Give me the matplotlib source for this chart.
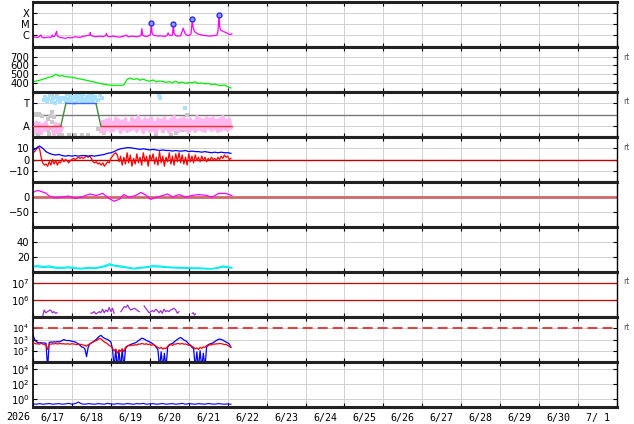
import datetime

import numpy as np
import matplotlib
matplotlib.use('Agg')
import matplotlib.pyplot as plt
import matplotlib.dates as mdates
from matplotlib.ticker import FixedLocator, NullLocator, NullFormatter, FixedFormatter, LogFormatterMathtext

nan = np.nan

# ---- data (hours counted from 2026-06-17 00:00) ----
# X-ray flux, in units of 1e-6 W/m2
xray_h = [0, 1.5, 3, 4.9, 5.3, 6.5, 8, 9.5, 11, 11.9,
          12.4, 13.5, 14.5, 14.9, 15.8, 17, 18.5, 20, 21.5, 23,
          24.5, 26, 27.5, 29, 30.5, 32, 33.5, 35.0, 35.3, 35.8,
          37, 38.5, 40, 41.5, 43, 44.8, 45.3, 45.9, 47, 48.5,
          50, 51.5, 53, 54.5, 56, 57.6, 58.2, 59.5, 61, 62.5,
          64, 65.5, 66.6, 67.1, 67.6, 68.5, 70, 71.5, 72.4, 73.0,
          73.4, 74.2, 75.5, 77, 78.5, 80, 81.5, 82.8, 83.3, 83.9,
          85, 86.0, 86.5, 87.0, 88, 89.5, 91, 92.6, 93.1, 93.8,
          94.8, 96, 97.4, 98.2, 98.7, 99.5, 100.5, 101.5, 103, 104.5,
          106, 107.5, 109, 110.5, 112, 113.4, 114.0, 114.7, 115.1, 115.6,
          116.3, 117.2, 118.2, 119.3, 120.4, 121.5, 122.6]
xray_flux = [0.7, 0.65, 0.6, 1.0, 0.7, 0.55, 0.6, 0.65, 0.6, 1.0,
             0.7, 0.8, 2.2, 0.9, 0.7, 0.6, 0.55, 0.5, 0.6, 0.55,
             0.6, 0.7, 0.65, 0.6, 0.75, 0.8, 0.9, 1.0, 1.7, 0.9,
             0.8, 0.7, 0.75, 0.8, 0.7, 0.9, 1.4, 0.8, 0.7, 0.75,
             0.8, 0.7, 0.65, 0.7, 0.8, 1.0, 0.75, 0.7, 0.8, 0.75,
             0.7, 0.8, 0.9, 3.8, 1.0, 0.8, 0.75, 0.9, 1.1, 12.0,
             1.5, 1.0, 0.9, 0.8, 0.85, 0.8, 0.75, 1.0, 1.6, 1.0,
             0.9, 1.0, 9.8, 1.4, 0.9, 0.8, 0.85, 4.3, 2.5, 1.4,
             1.0, 0.9, 1.2, 30.0, 5.0, 2.2, 1.6, 1.3, 1.1, 1.0,
             0.9, 0.85, 0.8, 0.85, 0.9, 1.0, 2.0, 71.0, 6.0, 3.0,
             2.6, 2.2, 1.9, 1.6, 1.3, 1.1, 1.3]
flare_h = [73.0, 86.5, 98.2, 114.7]
flare_flux = [12.0, 9.8, 30.0, 71.0]

# solar wind speed (km/s), every 2 h
wind_speed = [412, 420, 428, 440, 452, 465, 472, 498, 478, 482,
              470, 468, 462, 455, 448, 440, 432, 425, 415, 408,
              398, 390, 382, 376, 372, 370, 372, 368, 375, 440,
              455, 438, 448, 430, 442, 425, 418, 432, 410, 420,
              415, 405, 412, 400, 418, 398, 408, 395, 402, 400,
              410, 392, 398, 388, 392, 380, 385, 372, 368, 375,
              355, 340]

# panel 3: sector / class (A=0, T=2)
lightblue_h = [6.5, 7.5, 8.5, 9.5, 10.5, 11.5, 12.5, 13.5, 14.5, 15.5, 16.5, 17.5, 18.5,
               20.0, 20.5, 21.0, 22.0, 22.5, 23.0, 24.0, 24.5, 25.0, 26.0,
               26.5, 27.0, 28.0, 28.5, 29.0, 30.0, 30.5, 31.0, 32.0, 32.5,
               33.0, 34.0, 34.5, 35.0, 36.0, 36.5, 37.0, 38.0, 38.5, 40.0,
               41.5, 42.5, 77.5, 78.0, 93.5]
lightblue_v = [2.3, 2.6, 2.1, 2.4, 2.7, 2.2, 2.5, 2.0, 2.6, 2.3, 2.1, 2.5, 2.4,
               2.5, 2.2, 2.8, 2.4, 2.1, 2.7, 2.3, 2.6, 2.0, 2.5,
               2.8, 2.2, 2.6, 2.3, 2.7, 2.1, 2.5, 2.8, 2.4, 2.2,
               2.6, 2.3, 2.7, 2.1, 2.5, 2.8, 2.2, 2.6, 2.4, 2.3,
               2.7, 2.5, 2.7, 2.5, 1.6]
gray_h = [0.5, 1.5, 2.5, 3.5, 4.5, 5.5, 1.0, 3.0, 5.0, 9.5,
          10.5, 11.5, 12.0, 13.0, 9.0, 10.0, 11.0, 14.0, 16.0, 18.0,
          22.0, 26.0, 30.0, 34.0, 40.0, 44.0, 76.0, 80.0, 85.0, 88.0,
          92.0, 95.0, 12.0, 14.5]
gray_v = [1.0, 1.05, 0.95, 1.05, 1.0, 0.9, -0.6, -0.8, -0.5, 0.6,
          0.9, 1.2, 0.3, 0.8, -0.4, -0.7, -0.2, -0.5, -0.85, -0.85,
          -0.85, -0.85, -0.85, -0.85, -0.3, -0.6, -0.7, -0.5, -0.8, -0.6,
          -0.4, 1.0, 2.85, 2.9]
pink_v = [-0.1, -0.6, 0.3, -0.5, 0.2, -0.7, 0.1, -0.4, 0.3, -0.3,
          nan, nan, -0.2, -0.8, 0.2, -0.6, 0.1, -0.5, -0.2, nan,
          nan, nan, nan, nan, nan, nan, nan, nan, nan, nan,
          nan, nan, nan, nan, nan, nan, nan, nan, nan, nan,
          nan, nan, -0.5, 0.4, -0.6, 0.5, -0.3, 0.6, -0.5, 0.3,
          -0.4, 0.7, -0.2, 0.5, -0.6, 0.4, -0.3, 0.6, -0.5, 0.2,
          -0.4, 0.7, -0.3, 0.5, -0.5, 0.8, -0.2, 0.4, -0.6, 0.6,
          -0.3, 0.5, -0.5, 0.7, -0.4, 0.3, -0.6, 0.6, -0.2, 0.5,
          -0.5, 0.7, -0.3, 0.4, -0.6, 0.6, -0.4, 0.8, -0.3, 0.5,
          -0.5, 0.6, -0.2, 0.7, -0.4, 0.5, -0.6, 0.6, -0.3, 0.4,
          -0.5, 0.8, -0.3, 0.6, -0.4, 0.5, -0.5, 0.7, -0.2, 0.6,
          -0.4, 0.7, -0.3, 0.5, -0.5, 0.6, -0.4, 0.8, -0.3, 0.5,
          -0.4, 0.6, -0.2]
class_h = [0, 17.2, 20.3, 38.8, 41.8, 122.6]
class_v = [0, 0, 2, 2, 0, 0]
class_colors = ['#ff3030', '#3f8a3f', '#4466ff', '#3f8a3f', '#ff3030']

# IMF Bt every 2 h, Bz every 1 h (nT)
bt = [8, 10, 12, 10, 7, 5.5, 4.5, 4, 4.5, 3.5,
      3, 3.5, 3, 3.5, 3, 3.5, 3.5, 3, 3.5, 3,
      3.5, 4, 4.5, 5.5, 6, 7, 8.5, 9.5, 10, 10.5,
      10.5, 10, 9.5, 9, 9.5, 9, 8.5, 9, 8.5, 8,
      8.5, 8, 8, 7.5, 8, 7.5, 7.5, 8, 7, 7.5,
      7, 7, 6.5, 7, 6.5, 6, 6.5, 6, 6.5, 6,
      6, 5.5]
bz = [6, 7, 9, 11, 10, 2, -3, -5, -4, -6,
      -2, -5, 0, -4, -1, -5, -2, -3, 1, -2,
      0, -1, -3, -1, 0, 1, 0, 1, 2, 1,
      2, 1, 2, 3, 2, 3, 1, -2, -3, -2,
      -4, -3, -5, -3, -6, -4, -2, -3, 1, 3,
      5, 6, 4, -2, 3, -5, 2, -4, 6, -3,
      4, -6, 1, -4, 5, -3, 2, -5, 6, -2,
      3, -6, 4, -1, 5, -4, 2, -5, 7, -3,
      3, -6, 2, -2, 6, -4, 3, -5, 5, -2,
      6, -3, 4, -4, 2, -5, 5, -2, 3, -3,
      4, -1, 2, -2, 3, -1, 2, -2, 1, -1,
      2, 0, 1, -1, 2, 0, 3, 1, 4, 2,
      3, 0, 1]

# Dst (nT)
dst_h = [0, 3, 8, 10, 14, 18, 22, 26, 30, 35,
         39, 43, 47, 50, 53, 56, 59, 63, 66.5, 69.5,
         72.5, 75.5, 80, 83, 86, 90, 94, 98, 102, 106,
         110.5, 114.5, 118.5, 122.6]
dst = [16, 22, 13, 3, -3, 0, 3, -5, 0, 10,
       5, 12, -5, -14, -8, 8, 0, 4, 15, 7,
       -8, -2, 5, 10, 0, 8, 0, 5, 8, 6,
       0, 12, 12, 5]

# density (two channels)
dens_h = [0, 3, 6, 10, 14, 18, 22, 26, 30, 34,
          38, 42, 45, 47, 50, 54, 58, 62, 66, 70,
          74, 78, 82, 86, 90, 94, 98, 102, 106, 110,
          114, 117, 120, 122.6]
dens_a = [8, 8.5, 7.5, 8, 6.5, 6, 7, 5.5, 5, 6,
          5.5, 7, 9, 11, 9, 8, 6.5, 5, 6, 7,
          8.5, 8, 7, 6.5, 6, 6, 5.5, 5.5, 5, 4.5,
          6, 8, 7, 6]
dens_b = [6.5, 7, 6, 6.5, 5, 5, 5.5, 4.5, 4, 5,
          4.5, 6, 7.5, 9.5, 8, 6.5, 5.5, 4, 5, 6,
          7, 6.5, 6, 5.5, 5, 5, 4.5, 4.5, 4, 4,
          5, 6.5, 6, 5]

# particle fluence (purple), gaps as nan
fluence_h = [5.9, 6.9, 7.9, 8.9, 9.9, 10.9, 11.9, 12.9, 13.9, 14.9, 20.0,
             35.7, 36.7, 37.7, 38.8, 39.8, 40.8, 41.8, 42.9, 43.9, 44.9, 46.0, 47.0, 48.0, 49.0, 50.0, 52.0,
             54.2, 55.2, 56.2, 57.3, 58.3, 59.3, 60.3, 61.4, 62.4, 63.4, 64.5, 65.5, 67.0,
             68.5, 69.5, 70.6, 71.6, 72.6, 73.6, 74.6, 75.7, 76.7, 77.7, 78.7, 79.7, 80.8,
             81.8, 82.8, 83.8, 84.8, 85.9, 86.9, 88.0, 89.0, 90.0, 95.0,
             98.2, 98.8, 99.5, 100.1]
fluence = [1.0e5, 2.5e5, 1.7e5, 2.0e5, 2.3e5, 2.5e5, 1.7e5, 2.0e5, 1.6e5, 1.7e5, nan,
           1.6e5, 1.7e5, 2.0e5, 1.45e5, 1.7e5, 2.0e5, 1.7e5, 2.8e5, 1.7e5, 2.5e5, 2.0e5, 3.6e5, 2.0e5, 3.2e5, 1.6e5, nan,
           2.0e5, 2.8e5, 4.0e5, 3.6e5, 5.0e5, 3.2e5, 2.5e5, 2.8e5, 3.2e5, 2.8e5, 2.3e5, 2.0e5, nan,
           4.4e5, 3.2e5, 2.3e5, 1.7e5, 2.0e5, 2.3e5, 2.0e5, 2.8e5, 2.3e5, 1.7e5, 2.3e5, 1.6e5, 2.8e5,
           2.0e5, 2.3e5, 2.0e5, 2.5e5, 2.8e5, 3.2e5, 2.5e5, 1.6e5, 2.0e5, nan,
           1.6e5, 1.7e5, 1.25e5, 1.45e5]

# electron flux, hourly (two channels)
elec_blue = [2500, 1000, 630, 550, 500, 520, 480, 500, 450, 3,
             550, 600, 580, 620, 600, 650, 600, 700, 800, 1000,
             850, 800, 820, 750, 700, 650, 600, 500, 400, 300,
             220, 200, 150, 30, 200, 400, 500, 600, 800, 1000,
             1500, 2000, 2300, 1600, 1300, 1100, 1000, 800, 600, 150,
             3, 120, 3, 100, 3, 130, 3, 150, 250, 300,
             350, 400, 450, 500, 600, 800, 1000, 1300, 1200, 1000,
             800, 700, 600, 500, 400, 300, 200, 120, 3, 80,
             3, 60, 3, 200, 350, 400, 450, 600, 800, 1000,
             1300, 1500, 1200, 900, 800, 600, 400, 300, 200, 150,
             3, 80, 3, 100, 3, 60, 3, 200, 350, 400,
             450, 500, 650, 800, 1000, 1100, 1000, 900, 700, 600,
             500, 400, 200]
elec_red = [500, 450, 400, 420, 380, 450, 400, 350, 300, 130,
            400, 380, 420, 400, 450, 400, 420, 450, 400, 430,
            380, 420, 400, 380, 420, 400, 380, 350, 400, 380,
            350, 320, 300, 250, 350, 400, 500, 600, 700, 800,
            1000, 1260, 1100, 800, 600, 500, 400, 300, 250, 160,
            100, 140, 60, 120, 90, 150, 80, 200, 250, 300,
            280, 320, 300, 350, 320, 400, 380, 450, 400, 380,
            420, 350, 400, 300, 350, 300, 250, 200, 160, 200,
            140, 180, 150, 250, 300, 350, 300, 400, 380, 450,
            420, 400, 450, 380, 400, 350, 300, 320, 250, 200,
            150, 180, 130, 200, 160, 220, 200, 300, 280, 350,
            320, 400, 380, 420, 400, 450, 420, 400, 350, 380,
            300, 250, 200]

# bottom panel, every 2 h
bottom_flux = [0.22, 0.2, 0.24, 0.2, 0.22, 0.25, 0.2, 0.22, 0.24, 0.2,
               0.22, 0.26, 0.2, 0.24, 0.38, 0.22, 0.2, 0.24, 0.22, 0.2,
               0.24, 0.22, 0.2, 0.26, 0.22, 0.2, 0.24, 0.22, 0.2, 0.25,
               0.22, 0.2, 0.24, 0.22, 0.26, 0.2, 0.22, 0.24, 0.2, 0.22,
               0.25, 0.2, 0.22, 0.24, 0.2, 0.22, 0.26, 0.2, 0.24, 0.22,
               0.2, 0.24, 0.22, 0.2, 0.25, 0.22, 0.2, 0.24, 0.22, 0.2,
               0.22, 0.2]

# ---- helpers ----
t0 = mdates.date2num(np.datetime64('2026-06-17T00:00'))
n_days = 15


def tx(hours):
    return t0 + np.asarray(hours, dtype=float) / 24.0


def every(step, values):
    return tx(np.arange(len(values)) * step)


day_labels = []
for i in range(n_days):
    d = datetime.date(2026, 6, 17) + datetime.timedelta(days=i)
    day_labels.append(f'{d.month}/{d.day:2d}')

# ---- figure ----
W, H = 634.0, 424.0
x_left, x_right = 33, 617
panel_h = 45
fig = plt.figure(figsize=(W / 100, H / 100), dpi=100)
axs = []
for i in range(9):
    top = 2 + panel_h * i
    ax = fig.add_axes([x_left / W, 1 - (top + panel_h) / H, (x_right - x_left) / W, panel_h / H])
    ax.set_xlim(t0, t0 + n_days)
    ax.xaxis.set_major_locator(FixedLocator(t0 + np.arange(n_days + 1)))
    ax.xaxis.set_minor_locator(FixedLocator(t0 + np.arange(n_days) + 0.5))
    ax.xaxis.set_major_formatter(NullFormatter())
    ax.xaxis.set_minor_formatter(NullFormatter())
    ax.set_axisbelow(True)
    ax.grid(True, which='major', color='#d2d2d2', lw=0.7)
    ax.tick_params(which='major', direction='in', length=3, width=0.8, top=True, right=True,
                   labelsize=7.2, pad=2.5)
    ax.tick_params(which='minor', length=0)
    for side in ('top', 'bottom'):
        ax.spines[side].set_linewidth(2.2)
        ax.spines[side].set_color('#222222')
    ax.spines['left'].set_linewidth(1.2)
    ax.spines['right'].set_linewidth(1.0)
    axs.append(ax)


def log_axis(ax, lo, hi, ticks):
    ax.set_yscale('log')
    ax.set_ylim(lo, hi)
    ax.yaxis.set_major_locator(FixedLocator(ticks))
    ax.yaxis.set_minor_locator(NullLocator())
    ax.yaxis.set_major_formatter(LogFormatterMathtext())


# 1: X-ray flux
ax = axs[0]
log_axis(ax, 10 ** -7.1, 10 ** -2.95, [1e-6, 1e-5, 1e-4])
ax.yaxis.set_major_formatter(FixedFormatter(['C', 'M', 'X']))
ax.plot(tx(xray_h), np.array(xray_flux) * 1e-6, color='#ff00ff', lw=0.9)
ax.plot(tx(flare_h), np.array(flare_flux) * 1e-6, 'o', ms=3.6, mfc='#8899ff', mec='#2222ee', mew=0.9)

# 2: wind speed
ax = axs[1]
ax.set_ylim(294, 811)
ax.yaxis.set_major_locator(FixedLocator([400, 500, 600, 700]))
ax.plot(every(2, wind_speed), wind_speed, color='#00ee00', lw=0.9)

# 3: class
ax = axs[2]
ax.set_ylim(-1, 3)
ax.yaxis.set_major_locator(FixedLocator([0, 2]))
ax.yaxis.set_major_formatter(FixedFormatter(['A', 'T']))
ax.axhline(1, color='#777777', lw=1.0, zorder=1)
ax.plot(tx(gray_h), gray_v, 's', ms=2.2, color='#c8c8c8', mew=0, zorder=2)
ax.plot(tx(lightblue_h), lightblue_v, 's', ms=3.0, color='#a8e0ff', mew=0, zorder=2)
ax.plot(every(1, pink_v), pink_v, color='#ffb8f0', lw=2.6, zorder=2)
for k in range(len(class_h) - 1):
    ax.plot(tx(class_h[k:k + 2]), class_v[k:k + 2], color=class_colors[k], lw=1.0, zorder=3)

# 4: IMF
ax = axs[3]
ax.set_ylim(-20, 20)
ax.yaxis.set_major_locator(FixedLocator([-10, 0, 10]))
ax.axhline(0, color='#bb0000', lw=1.0, zorder=1)
ax.plot(every(1, bz), bz, color='#ff0000', lw=0.9, zorder=2)
ax.plot(every(2, bt), bt, color='#0000ff', lw=0.9, zorder=3)

# 5: Dst
ax = axs[4]
ax.set_ylim(-100, 50)
ax.yaxis.set_major_locator(FixedLocator([-50, 0]))
ax.axhline(0, color='#d06868', lw=2.0, zorder=1)
ax.plot(tx(dst_h), dst, color='#ff00ff', lw=0.9, zorder=2)

# 6: density
ax = axs[5]
ax.set_ylim(0, 60)
ax.yaxis.set_major_locator(FixedLocator([20, 40]))
ax.plot(tx(dens_h), dens_a, color='#00eeee', lw=0.9)
ax.plot(tx(dens_h), dens_b, color='#00eeee', lw=0.9)

# 7: fluence
ax = axs[6]
log_axis(ax, 10 ** 4.98, 10 ** 7.68, [1e6, 1e7])
ax.axhline(1e7, color='#cc0000', lw=0.9, zorder=1)
ax.axhline(1e6, color='#cc0000', lw=0.9, zorder=1)
ax.plot(tx(fluence_h), fluence, color='#9a30d0', lw=0.9)

# 8: electron flux
ax = axs[7]
log_axis(ax, 10, 1e5, [1e2, 1e3, 1e4])
ax.tick_params(axis='y', labelsize=6.6)
ax.axhline(1e4, color='#e03030', lw=1.3, dashes=(5.5, 2.8), zorder=1)
ax.plot(every(1, elec_blue), elec_blue, color='#0000ff', lw=0.9, zorder=2)
ax.plot(every(1, elec_red), elec_red, color='#ff0000', lw=0.9, zorder=3)

# 9: bottom flux
ax = axs[8]
log_axis(ax, 10 ** -1.07, 10 ** 4.93, [1e0, 1e2, 1e4])
ax.plot(every(2, bottom_flux), bottom_flux, color='#0000ff', lw=0.8)

# date labels on the bottom panel
axs[8].xaxis.set_minor_formatter(FixedFormatter(day_labels))
axs[8].tick_params(which='minor', pad=4.5, labelsize=7.2, labelfontfamily='DejaVu Sans Mono')
fig.text(18 / W, 1 - 416.5 / H, '2026', fontsize=7.2, family='DejaVu Sans Mono', ha='center', va='center')

# small markers on the right side
for i in (1, 2, 3, 6, 7):
    fig.text(626 / W, 1 - (2 + panel_h * i + 10) / H, 'rt', fontsize=5.5, color='#555555',
             ha='center', va='center')

fig.savefig('out.png', dpi=100)
